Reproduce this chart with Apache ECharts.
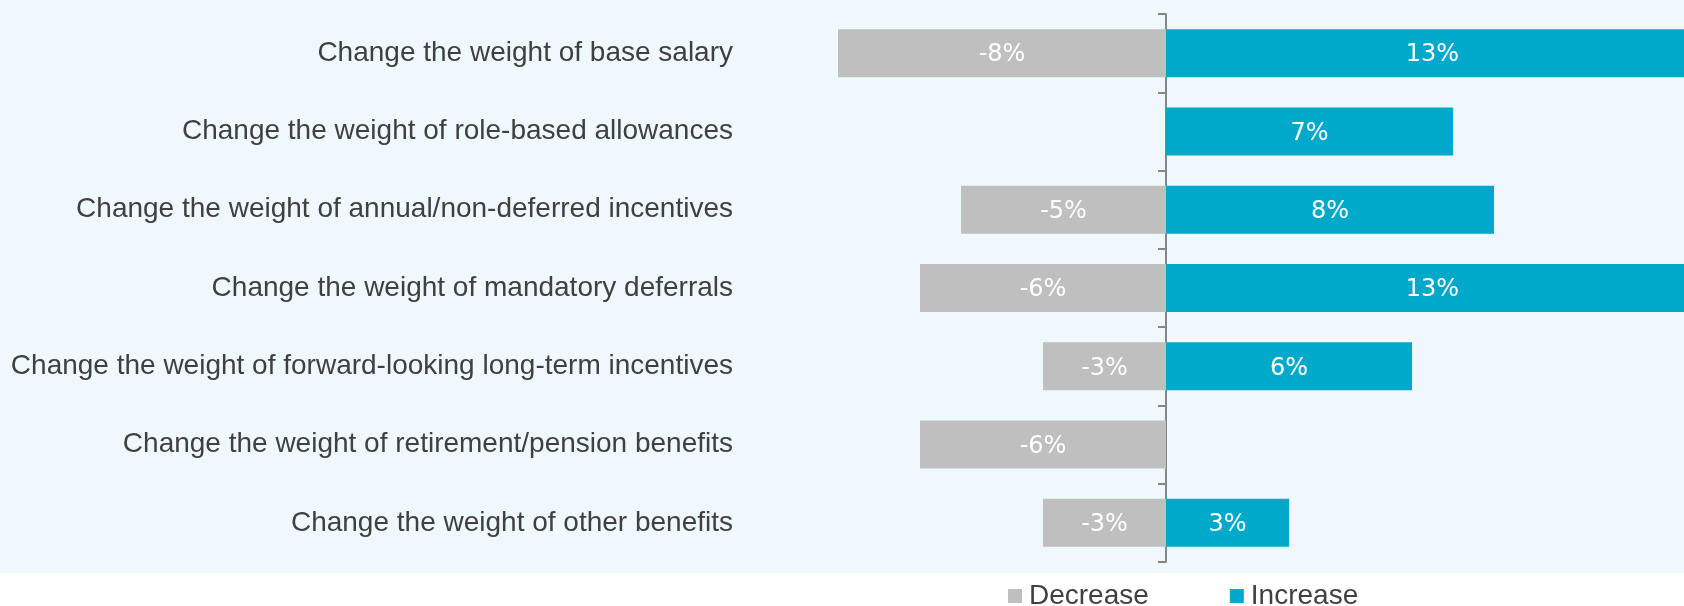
<!DOCTYPE html>
<html>
<head>
<meta charset="utf-8">
<style>
  html, body { margin: 0; padding: 0; background: #ffffff; }
  #chart { width: 1684px; height: 606px; }
</style>
<script src="https://cdn.jsdelivr.net/npm/echarts@6/dist/echarts.min.js"></script>
</head>
<body>
<div id="chart"></div>
<script>
// Survey items (top to bottom)
const categories = [
  'Change the weight of base salary',
  'Change the weight of role-based allowances',
  'Change the weight of annual/non-deferred incentives',
  'Change the weight of mandatory deferrals',
  'Change the weight of forward-looking long-term incentives',
  'Change the weight of retirement/pension benefits',
  'Change the weight of other benefits'
];

// Share of respondents, in percent (null = no response in that direction)
const decreaseValues = [-8, null, -5, -6, -3, -6, -3];
const increaseValues = [13, 7, 8, 13, 6, null, 3];

const seriesNames = ['Decrease', 'Increase'];

const chart = echarts.init(document.getElementById('chart'), null, { renderer: 'canvas' });

const labelStyle = {
  show: true,
  position: 'inside',
  offset: [0, 2],
  color: '#ffffff',
  fontFamily: 'DejaVu Sans',
  fontSize: 24,
  formatter: p => p.value + '%'
};

chart.setOption({
  animation: false,
  backgroundColor: '#ffffff',
  graphic: [{
    type: 'rect',
    z: -10,
    silent: true,
    shape: { x: 0, y: 0, width: 1684, height: 573 },
    style: { fill: '#EEF8FD' }
  }],
  legend: {
    data: seriesNames,
    left: 1003,
    top: 577,
    icon: 'rect',
    itemWidth: 14,
    itemHeight: 14,
    itemGap: 81,
    textStyle: {
      color: '#404040',
      fontFamily: 'Liberation Sans',
      fontSize: 28,
      lineHeight: 28,
      padding: [0, 0, 0, 2]
    }
  },
  // the value axis runs past the right edge, so the longest bars are cut off there
  grid: {
    left: 756,
    top: 14,
    right: 0,
    height: 548,
    containLabel: false
  },
  xAxis: {
    type: 'value',
    min: -10,
    max: 12.634,
    show: false,
    splitLine: { show: false }
  },
  yAxis: [
    {
      // category names, along the left edge of the plot
      type: 'category',
      data: categories,
      inverse: true,
      position: 'left',
      axisLine: { show: false, onZero: false },
      axisTick: { show: false },
      axisLabel: {
        margin: 23,
        color: '#404040',
        fontFamily: 'Liberation Sans',
        fontSize: 28,
        padding: [1, 0, 0, 0]
      }
    },
    {
      // centre divider at zero with boundary ticks
      type: 'category',
      data: categories,
      inverse: true,
      position: 'left',
      axisLine: { show: true, onZero: true, lineStyle: { color: '#868686', width: 2 } },
      axisTick: { show: true, length: 8, lineStyle: { color: '#868686', width: 2 } },
      axisLabel: { show: false }
    }
  ],
  series: [
    {
      name: seriesNames[0],
      type: 'bar',
      yAxisIndex: 0,
      data: decreaseValues,
      barWidth: 48,
      barGap: '-100%',
      clip: false,
      itemStyle: { color: '#BFBFBF' },
      label: labelStyle
    },
    {
      name: seriesNames[1],
      type: 'bar',
      yAxisIndex: 0,
      data: increaseValues,
      barWidth: 48,
      barGap: '-100%',
      clip: false,
      itemStyle: { color: '#00A9C9' },
      label: labelStyle
    }
  ]
});
</script>
</body>
</html>
